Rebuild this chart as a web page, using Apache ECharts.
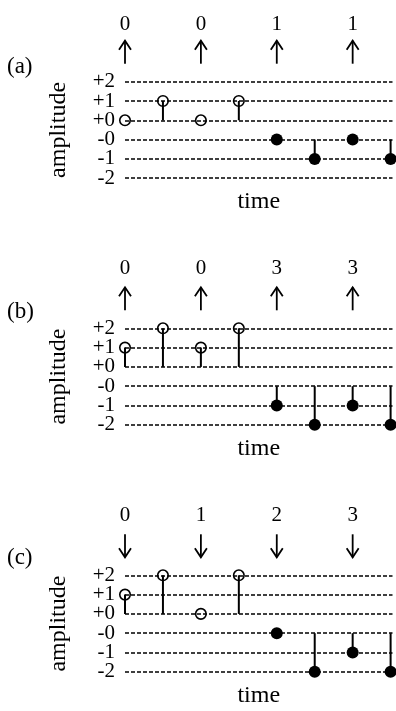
<!DOCTYPE html>
<html>
<head>
<meta charset="utf-8">
<script src="https://cdn.jsdelivr.net/npm/echarts@6/dist/echarts.min.js"></script>
<style>
html,body{margin:0;padding:0;background:#fff;}
#chart{width:396px;height:711px;}
</style>
</head>
<body>
<div id="chart"></div>
<script>
// ---- data ----
const yLabels = ['-2', '-1', '-0', '+0', '+1', '+2'];
const panelNames = ['(a)', '(b)', '(c)'];
const timeSteps = [0, 1, 2, 3, 4, 5, 6, 7];
const aLevels = ['+0', '+1', '+0', '+1', '-0', '-1', '-0', '-1'];
const bLevels = ['+1', '+2', '+1', '+2', '-1', '-2', '-1', '-2'];
const cLevels = ['+1', '+2', '+0', '+2', '-0', '-2', '-1', '-2'];
const topSteps = [0, 2, 4, 6];
const aTop = ['0', '0', '1', '1'];
const bTop = ['0', '0', '3', '3'];
const cTop = ['0', '1', '2', '3'];
const arrowDirs = ['up', 'up', 'down'];
const xAxisName = 'time';
const yAxisName = 'amplitude';

// ---- build ----
const levels = [aLevels, bLevels, cLevels];
const tops = [aTop, bTop, cTop];
const gridTops = [81.7, 328.3, 575.3];
const labelOffsets = [-57, -60, -60];
const nameOffsets = [-14, -16, -17];
const FONT = "'Liberation Serif', 'Times New Roman', serif";

const chart = echarts.init(document.getElementById('chart'), null, {renderer: 'canvas'});

const grids = [], xAxes = [], yAxes = [], series = [];
levels.forEach((lv, p) => {
  grids.push({left: 125, right: 3.5, top: gridTops[p], height: 96.5});
  xAxes.push({
    gridIndex: p, type: 'value', min: 0, max: 7.05,
    axisLine: {show: false}, axisTick: {show: false}, axisLabel: {show: false}, splitLine: {show: false},
    name: xAxisName, nameLocation: 'middle', nameGap: 12,
    nameTextStyle: {fontFamily: FONT, fontSize: 24, color: '#000', verticalAlign: 'top'}
  });
  yAxes.push({
    gridIndex: p, type: 'category', data: yLabels, boundaryGap: false,
    axisLine: {show: false}, axisTick: {show: false},
    axisLabel: {interval: 0, fontFamily: FONT, fontSize: 21, color: '#000', margin: 10,
                showMinLabel: true, showMaxLabel: true, hideOverlap: false},
    splitLine: {show: true, interval: 0, lineStyle: {color: '#000', width: 1.6, type: [4, 2]}},
    name: yAxisName, nameLocation: 'middle', nameRotate: 90, nameGap: 54,
    nameTextStyle: {fontFamily: FONT, fontSize: 24, color: '#000'}
  });
  const pts = lv.map((l, i) => [timeSteps[i], yLabels.indexOf(l), l[0] === '+' ? 1 : 0]);
  // stems
  series.push({
    type: 'custom', xAxisIndex: p, yAxisIndex: p, silent: true, z: 2,
    data: pts,
    renderItem: (params, api) => {
      const x = api.value(0), y = api.value(1), pos = api.value(2);
      const base = pos ? yLabels.indexOf('+0') : yLabels.indexOf('-0');
      const a = api.coord([x, base]), b = api.coord([x, y]);
      return {type: 'line', shape: {x1: a[0], y1: a[1], x2: b[0], y2: b[1]},
              style: {stroke: '#000', lineWidth: 2}};
    }
  });
  // open circles (positive)
  series.push({
    type: 'scatter', xAxisIndex: p, yAxisIndex: p, z: 3, symbol: 'circle', symbolSize: 10.5,
    itemStyle: {color: 'rgba(0,0,0,0)', borderColor: '#000', borderWidth: 1.6, opacity: 1},
    data: pts.filter(d => d[2] === 1).map(d => [d[0], d[1]])
  });
  // filled circles (negative)
  series.push({
    type: 'scatter', xAxisIndex: p, yAxisIndex: p, z: 3, symbol: 'circle', symbolSize: 12,
    itemStyle: {color: '#000', opacity: 1},
    data: pts.filter(d => d[2] === 0).map(d => [d[0], d[1]])
  });
  // top labels and arrows
  series.push({
    type: 'custom', xAxisIndex: p, yAxisIndex: p, silent: true, z: 4,
    data: tops[p].map((t, i) => [topSteps[i], yLabels.length - 1, t]),
    renderItem: (params, api) => {
      const c = api.coord([api.value(0), api.value(1)]);
      const px = c[0], ty = c[1];
      const t = tops[p][params.dataIndex];
      const y1 = ty - 41, y2 = ty - 18;
      const head = arrowDirs[p] === 'up'
        ? [[px - 6, y1 + 9], [px, y1], [px + 6, y1 + 9]]
        : [[px - 6, y2 - 9], [px, y2], [px + 6, y2 - 9]];
      return {type: 'group', children: [
        {type: 'text', style: {text: t, x: px, y: ty + labelOffsets[p], textAlign: 'center', textVerticalAlign: 'middle',
          font: '21px ' + FONT, fill: '#000'}},
        {type: 'line', shape: {x1: px, y1: y1, x2: px, y2: y2}, style: {stroke: '#000', lineWidth: 1.8}},
        {type: 'polyline', shape: {points: head}, style: {stroke: '#000', lineWidth: 1.8, fill: null}}
      ]};
    }
  });
});

const graphics = panelNames.map((n, p) => ({
  type: 'text', left: 7, top: gridTops[p] + nameOffsets[p] - 12,
  style: {text: n, font: '23px ' + FONT, fill: '#000'}
}));

chart.setOption({
  animation: false,
  backgroundColor: '#fff',
  grid: grids, xAxis: xAxes, yAxis: yAxes, series: series,
  graphic: graphics
});
</script>
</body>
</html>
